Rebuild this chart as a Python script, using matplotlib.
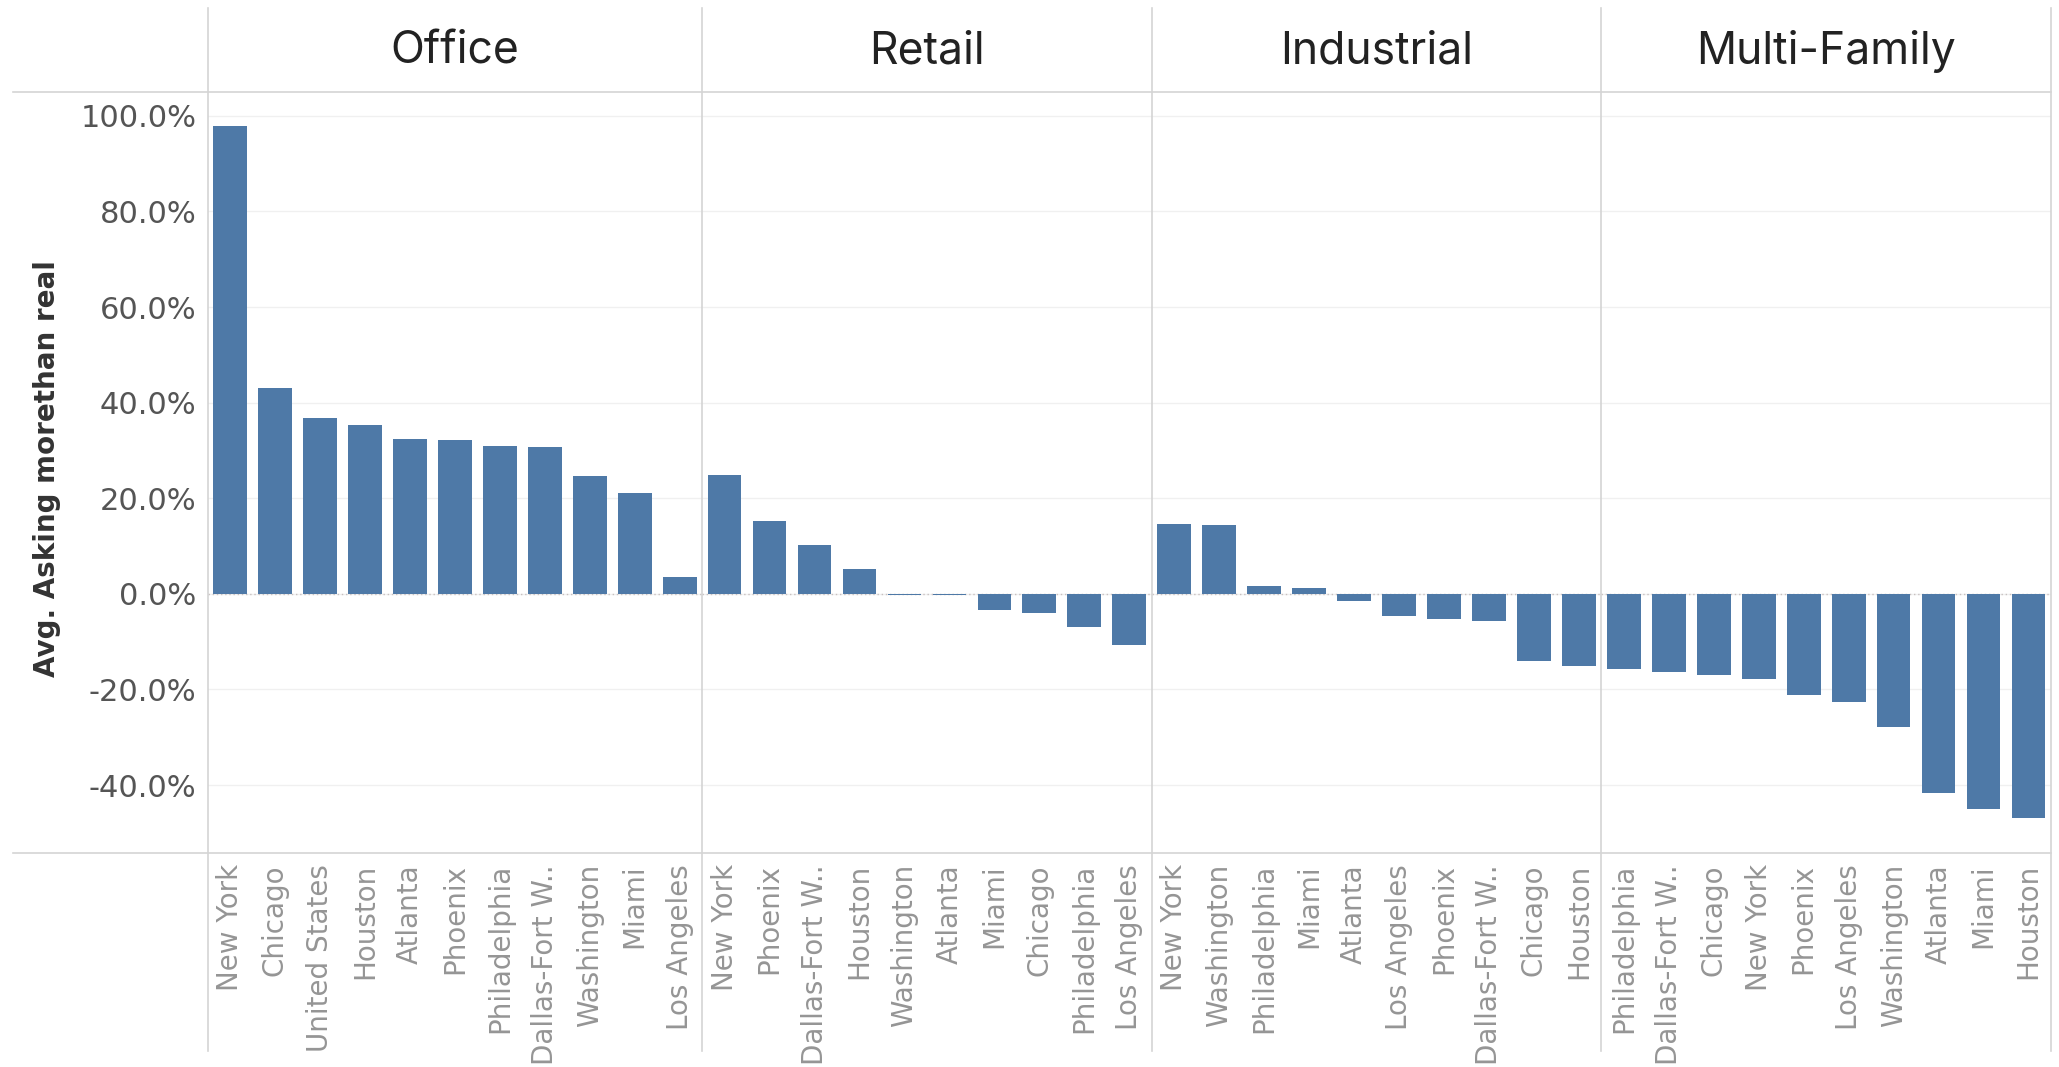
import matplotlib
matplotlib.use("Agg")
import matplotlib.pyplot as plt
from matplotlib.lines import Line2D
from matplotlib.ticker import FuncFormatter

# data (percent)
segments = ["Office", "Retail", "Industrial", "Multi-Family"]

office_cities = ["New York", "Chicago", "United States", "Houston", "Atlanta", "Phoenix",
                 "Philadelphia", "Dallas-Fort W..", "Washington", "Miami", "Los Angeles"]
office_values = [97.9, 43.0, 36.7, 35.4, 32.5, 32.2, 30.9, 30.7, 24.6, 21.1, 3.5]

retail_cities = ["New York", "Phoenix", "Dallas-Fort W..", "Houston", "Washington", "Atlanta",
                 "Miami", "Chicago", "Philadelphia", "Los Angeles"]
retail_values = [24.8, 15.3, 10.2, 5.2, -0.2, -0.2, -3.4, -4.0, -6.9, -10.7]

industrial_cities = ["New York", "Washington", "Philadelphia", "Miami", "Atlanta", "Los Angeles",
                     "Phoenix", "Dallas-Fort W..", "Chicago", "Houston"]
industrial_values = [14.7, 14.4, 1.7, 1.3, -1.5, -4.7, -5.3, -5.6, -14.1, -15.1]

multifamily_cities = ["Philadelphia", "Dallas-Fort W..", "Chicago", "New York", "Phoenix",
                      "Los Angeles", "Washington", "Atlanta", "Miami", "Houston"]
multifamily_values = [-15.8, -16.4, -17.0, -17.9, -21.1, -22.7, -27.8, -41.7, -44.9, -46.8]

y_ticks = [-40, -20, 0, 20, 40, 60, 80, 100]
y_label = "Avg. Asking morethan real"

cities = [office_cities, retail_cities, industrial_cities, multifamily_cities]
values = [office_values, retail_values, industrial_values, multifamily_values]

bar_color = "#4e79a7"
line_color = "#d4d4d4"

fig = plt.figure(figsize=(20.59, 10.67), dpi=100)
gs = fig.add_gridspec(1, 4, width_ratios=[len(c) for c in cities], wspace=0,
                      left=0.1008, right=0.9961, bottom=0.2006, top=0.9138)

axes = []
for i, (seg, names, vals) in enumerate(zip(segments, cities, values)):
    ax = fig.add_subplot(gs[0, i], sharey=axes[0] if axes else None)
    axes.append(ax)
    x = range(len(vals))
    ax.bar(x, vals, width=0.75, color=bar_color, zorder=3)
    ax.set_xlim(-0.5, len(vals) - 0.5)
    ax.set_ylim(-54.2, 105)
    ax.set_yticks(y_ticks)
    ax.grid(axis="y", color="#f0f0f0", linewidth=1, zorder=0)
    ax.axhline(0, color="#c8c0c0", linewidth=1, linestyle=(0, (1, 2)), zorder=2)
    for s in ax.spines.values():
        s.set_visible(False)
    ax.set_xticks(list(x))
    ax.set_xticklabels(names, rotation=90, fontsize=20, color="#959595",
                       family="DejaVu Sans", va="top")
    ax.tick_params(axis="x", length=0, pad=8)
    ax.tick_params(axis="y", length=0, pad=8)
    # panel divider on the left edge, running through header and labels
    ax.axvline(-0.5, ymin=-0.26, ymax=1.11, color=line_color, linewidth=1.2, clip_on=False)
    if i == len(segments) - 1:
        ax.axvline(len(vals) - 0.5, ymin=-0.26, ymax=1.11, color=line_color,
                   linewidth=1.2, clip_on=False)
    ax.annotate(seg, xy=(0.5, 1.0), xycoords="axes fraction", xytext=(0, 29),
                textcoords="offset points", ha="center", va="center",
                fontsize=32, color="#222222", family="Inter")
    if i == 0:
        ax.yaxis.set_major_formatter(FuncFormatter(lambda v, p: f"{v:.1f}%"))
        for lab in ax.get_yticklabels():
            lab.set_fontsize(22)
            lab.set_color("#555555")
            lab.set_family("DejaVu Sans")
    else:
        ax.tick_params(axis="y", labelleft=False)

# header bottom line and axis bottom line across the whole chart
for yy in [0.9138, 0.2006]:
    fig.add_artist(Line2D([0.0063, 0.9961], [yy, yy], color=line_color, linewidth=1.2))

fig.text(0.0228, 0.5605, y_label, rotation=90, ha="center", va="center",
         fontsize=20, fontweight="bold", color="#333333", family="DejaVu Sans")

fig.savefig("out.png", dpi=100, facecolor="white")
